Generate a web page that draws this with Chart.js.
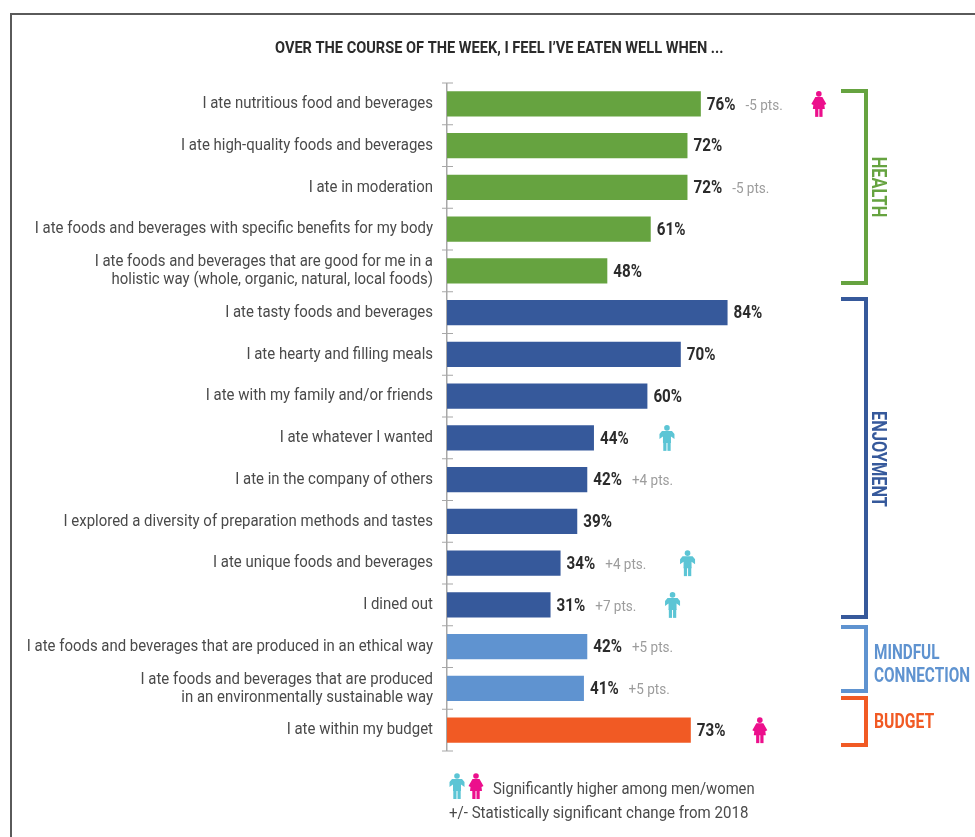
<!DOCTYPE html>
<html>
<head>
<meta charset="utf-8">
<style>
    html, body { margin: 0; padding: 0; background: #fff; }
    #wrap { position: relative; width: 975px; height: 837px; }
</style>
<script src="https://cdn.jsdelivr.net/npm/chart.js@4"></script>
</head>
<body>
<div id="wrap"><canvas id="eatenWell"></canvas></div>
<script>
const categories = [
    'I ate nutritious food and beverages',
    'I ate high-quality foods and beverages',
    'I ate in moderation',
    'I ate foods and beverages with specific benefits for my body',
    ['I ate foods and beverages that are good for me in a', 'holistic way (whole, organic, natural, local foods)'],
    'I ate tasty foods and beverages',
    'I ate hearty and filling meals',
    'I ate with my family and/or friends',
    'I ate whatever I wanted',
    'I ate in the company of others',
    'I explored a diversity of preparation methods and tastes',
    'I ate unique foods and beverages',
    'I dined out',
    'I ate foods and beverages that are produced in an ethical way',
    ['I ate foods and beverages that are produced', 'in an environmentally sustainable way'],
    'I ate within my budget'
];
const values = [76, 72, 72, 61, 48, 84, 70, 60, 44, 42, 39, 34, 31, 42, 41, 73];
const changes = ['-5 pts.', '', '-5 pts.', '', '', '', '', '', '', '+4 pts.', '', '+4 pts.', '+7 pts.', '+5 pts.', '+5 pts.', ''];
const higherAmong = ['women', '', '', '', '', '', '', '', 'men', '', '', 'men', 'men', '', '', 'women'];
const groups = ['health', 'health', 'health', 'health', 'health',
    'enjoyment', 'enjoyment', 'enjoyment', 'enjoyment', 'enjoyment', 'enjoyment', 'enjoyment', 'enjoyment',
    'mindful', 'mindful', 'budget'];

const colors = {
    health: '#66a340',
    enjoyment: '#36599b',
    mindful: '#5f93d0',
    budget: '#f15a24',
    men: '#5cc5d5',
    women: '#ec0f8c'
};

const FONT = 'Roboto, sans-serif';
const LABEL_SQUEEZE = 0.88;
const LABEL_RIGHT = 433;

// gap between the bar end and the little person, per row
const iconGaps = { 0: 118, 8: 73, 11: 127, 12: 122, 15: 69 };

const brackets = [
    { group: 'health', top: 91, bottom: 283 },
    { group: 'enjoyment', top: 299, bottom: 617 },
    { group: 'mindful', top: 627, bottom: 691 },
    { group: 'budget', top: 698, bottom: 745 }
];

// No condensed face is installed, so text is squeezed horizontally around its start
function narrowText(ctx, text, x, y, squeeze) {
    ctx.save();
    ctx.translate(x, y);
    ctx.scale(squeeze, 1);
    ctx.fillText(text, 0, 0);
    ctx.restore();
}

function drawPerson(ctx, cx, cy, sex) {
    ctx.save();
    ctx.translate(cx, cy);
    ctx.fillStyle = colors[sex];
    ctx.beginPath();
    ctx.arc(0, -10, 2.8, 0, Math.PI * 2);
    ctx.fill();
    ctx.beginPath();
    if (sex === 'women') {
        ctx.moveTo(-3.5, -7);
        ctx.lineTo(3.5, -7);
        ctx.lineTo(7.5, 0);
        ctx.lineTo(5.5, 1);
        ctx.lineTo(6, 5);
        ctx.lineTo(-6, 5);
        ctx.lineTo(-5.5, 1);
        ctx.lineTo(-7.5, 0);
    } else {
        ctx.moveTo(-5, -7);
        ctx.lineTo(5, -7);
        ctx.lineTo(7.5, -4);
        ctx.lineTo(7.5, 1);
        ctx.lineTo(4, -1.5);
        ctx.lineTo(4, 5);
        ctx.lineTo(-4, 5);
        ctx.lineTo(-4, -1.5);
        ctx.lineTo(-7.5, 1);
        ctx.lineTo(-7.5, -4);
    }
    ctx.closePath();
    ctx.fill();
    // legs
    ctx.fillRect(-3.7, 4, 3.2, 9);
    ctx.fillRect(0.5, 4, 3.2, 9);
    ctx.restore();
}

function drawBracket(ctx, top, bottom, color) {
    ctx.fillStyle = color;
    ctx.fillRect(841, top - 2, 27, 4);
    ctx.fillRect(841, bottom - 2, 27, 4);
    ctx.fillRect(864, top - 2, 4, bottom - top + 4);
}

const decorations = {
    id: 'decorations',
    afterLayout(chart) {
        // squeeze the category labels around their right edge
        const yScale = chart.scales.y;
        const drawLabels = yScale.constructor.prototype.drawLabels;
        // the scale's own clip box would move with the squeeze, so it is dropped
        yScale._computeLabelArea = () => undefined;
        yScale.drawLabels = function(area) {
            const ctx = this.ctx;
            ctx.save();
            ctx.translate(LABEL_RIGHT, 0);
            ctx.scale(LABEL_SQUEEZE, 1);
            ctx.translate(-LABEL_RIGHT, 0);
            drawLabels.call(this, area);
            ctx.restore();
        };
    },
    beforeDraw(chart) {
        const ctx = chart.ctx;
        ctx.save();
        ctx.fillStyle = '#fff';
        ctx.fillRect(0, 0, chart.width, chart.height);
        // frame around the figure, open on the right and at the bottom
        ctx.fillStyle = '#5a5a5a';
        ctx.fillRect(10, 13, 965, 2);
        ctx.fillRect(10, 13, 2, 824);
        ctx.restore();
    },
    beforeDatasetsDraw(chart) {
        const ctx = chart.ctx;
        const yScale = chart.scales.y;
        const left = chart.chartArea.left;
        const step = yScale.getPixelForValue(1) - yScale.getPixelForValue(0);
        ctx.save();
        ctx.fillStyle = '#a8a8a8';
        ctx.fillRect(left - 1, yScale.getPixelForValue(0) - step / 2, 1.5, step * values.length);
        for (let i = 0; i <= values.length; i++) {
            ctx.fillRect(left - 5, yScale.getPixelForValue(0) + step * (i - 0.5) - 0.5, 11, 1);
        }
        ctx.restore();
    },
    afterDatasetsDraw(chart) {
        const ctx = chart.ctx;
        const bars = chart.getDatasetMeta(0).data;
        ctx.save();
        ctx.textBaseline = 'middle';
        ctx.textAlign = 'left';

        bars.forEach((bar, i) => {
            const label = values[i] + '%';
            ctx.font = 'bold 19px ' + FONT;
            ctx.fillStyle = '#2b2b2b';
            narrowText(ctx, label, bar.x + 6, bar.y + 1, 0.8);
            const w = ctx.measureText(label).width * 0.8;
            if (changes[i]) {
                ctx.font = '15px ' + FONT;
                ctx.fillStyle = '#9c9c9c';
                narrowText(ctx, changes[i], bar.x + 6 + w + 10, bar.y + 2, 0.9);
            }
            if (higherAmong[i]) {
                drawPerson(ctx, bar.x + iconGaps[i], bar.y, higherAmong[i]);
            }
        });

        // title
        ctx.font = 'bold 17px ' + FONT;
        ctx.fillStyle = '#2b2b2b';
        narrowText(ctx, 'OVER THE COURSE OF THE WEEK, I FEEL I\u2019VE EATEN WELL WHEN ...', 275, 49, 0.857);

        // group brackets and their names
        brackets.forEach(b => drawBracket(ctx, b.top, b.bottom, colors[b.group]));
        ctx.font = 'bold 21px ' + FONT;
        ctx.fillStyle = colors.mindful;
        narrowText(ctx, 'MINDFUL', 874, 654, 0.73);
        narrowText(ctx, 'CONNECTION', 874, 677, 0.73);
        ctx.fillStyle = colors.budget;
        narrowText(ctx, 'BUDGET', 874, 723, 0.75);

        [['HEALTH', colors.health, 187], ['ENJOYMENT', colors.enjoyment, 459]].forEach(([text, color, y]) => {
            ctx.save();
            ctx.translate(877, y);
            ctx.rotate(Math.PI / 2);
            ctx.scale(0.78, 1);
            ctx.textAlign = 'center';
            ctx.font = 'bold 21px ' + FONT;
            ctx.fillStyle = color;
            ctx.fillText(text, 0, 0);
            ctx.restore();
        });

        // key under the bars
        drawPerson(ctx, 457, 786, 'men');
        drawPerson(ctx, 476, 786, 'women');
        ctx.font = '17px ' + FONT;
        ctx.fillStyle = '#4a4a4a';
        narrowText(ctx, 'Significantly higher among men/women', 493, 790, 0.87);
        narrowText(ctx, '+/- Statistically significant change from 2018', 449, 814, 0.885);
        ctx.restore();
    }
};

const eatenWellChart = new Chart(document.getElementById('eatenWell').getContext('2d'), {
    type: 'bar',
    data: {
        labels: categories,
        datasets: [{
            data: values,
            backgroundColor: groups.map(g => colors[g]),
            categoryPercentage: 1,
            barPercentage: 0.6
        }]
    },
    options: {
        indexAxis: 'y',
        responsive: true,
        maintainAspectRatio: false,
        animation: false,
        layout: {
            padding: { top: 83, bottom: 86, right: 194 }
        },
        plugins: {
            legend: { display: false },
            tooltip: { enabled: false }
        },
        scales: {
            x: { display: false, min: 0, max: 100 },
            y: {
                afterFit: scale => { scale.width = 447; },
                border: { display: false },
                grid: { display: false },
                ticks: {
                    autoSkip: false,
                    padding: 6,
                    color: '#4a4a4a',
                    font: { family: FONT, size: 17, lineHeight: 1.06 }
                }
            }
        }
    },
    plugins: [decorations]
});
</script>
</body>
</html>
